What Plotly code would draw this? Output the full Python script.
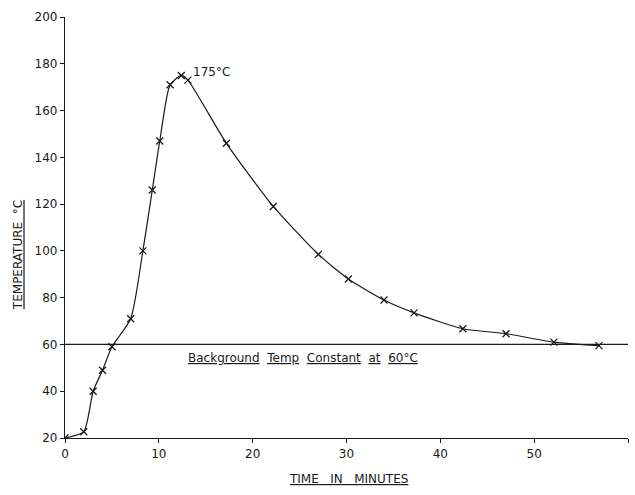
import plotly.graph_objects as go

time_min = [0, 2, 3, 4, 5, 7, 8.3, 9.3, 10.1, 11.2, 12.4, 13.1, 17.2, 22.2, 27.0, 30.2, 34.0, 37.2, 42.4, 47.0, 52.1, 56.9]
temp_c = [20, 22.7, 40, 49, 59, 71, 100, 126, 147, 171, 175, 173, 146, 119, 98.5, 88, 79, 73.5, 66.7, 64.6, 61, 59.5]
background_t = [0, 60]
background_v = [60, 60]
x_ticks = [0, 10, 20, 30, 40, 50, 60]
y_ticks = [20, 40, 60, 80, 100, 120, 140, 160, 180, 200]

FONT = "DejaVu Sans"
INK = "#1a1a1a"

fig = go.Figure()
fig.add_trace(go.Scatter(
    x=background_t, y=background_v, mode="lines",
    line=dict(color=INK, width=1.3), hoverinfo="skip", showlegend=False))
fig.add_trace(go.Scatter(
    x=time_min, y=temp_c, mode="lines+markers",
    line=dict(color=INK, width=1.2, shape="spline", smoothing=0.6),
    marker=dict(symbol="x-thin", size=7, line=dict(color=INK, width=1.3)),
    showlegend=False))

fig.add_annotation(x=13.4, y=176.5, xref="x", yref="y", text="175°C",
                   showarrow=False, xanchor="left", yanchor="middle",
                   font=dict(family=FONT, size=12, color=INK))
fig.add_annotation(x=12.9, y=54, xref="x", yref="y",
                   text="<u>Background</u>  <u>Temp</u>  <u>Constant</u>  <u>at</u>  <u>60°C</u>",
                   showarrow=False, xanchor="left", yanchor="middle",
                   font=dict(family=FONT, size=12, color=INK))
fig.add_annotation(x=-0.083, y=0.435, xref="paper", yref="paper",
                   text="<u>TEMPERATURE  °C</u>", textangle=-90,
                   showarrow=False, xanchor="center", yanchor="middle",
                   font=dict(family=FONT, size=12, color=INK))
fig.add_annotation(x=0.503, y=-0.098, xref="paper", yref="paper",
                   text="<u>TIME   IN   MINUTES</u>",
                   showarrow=False, xanchor="center", yanchor="middle",
                   font=dict(family=FONT, size=12, color=INK))

fig.update_xaxes(range=[0, 60], tickvals=x_ticks, showgrid=False, zeroline=False,
                 showline=True, linecolor=INK, linewidth=1.2,
                 ticks="outside", ticklen=4, tickcolor=INK,
                 tickfont=dict(family=FONT, size=12, color=INK))
fig.update_yaxes(range=[20, 200], tickvals=y_ticks, showgrid=False, zeroline=False,
                 showline=True, linecolor=INK, linewidth=1.2,
                 ticks="outside", ticklen=4, tickcolor=INK,
                 tickfont=dict(family=FONT, size=12, color=INK))

fig.update_layout(width=635, height=495, margin=dict(l=65, r=7, t=17, b=57),
                  plot_bgcolor="white", paper_bgcolor="white")
fig.write_html("out.html")
